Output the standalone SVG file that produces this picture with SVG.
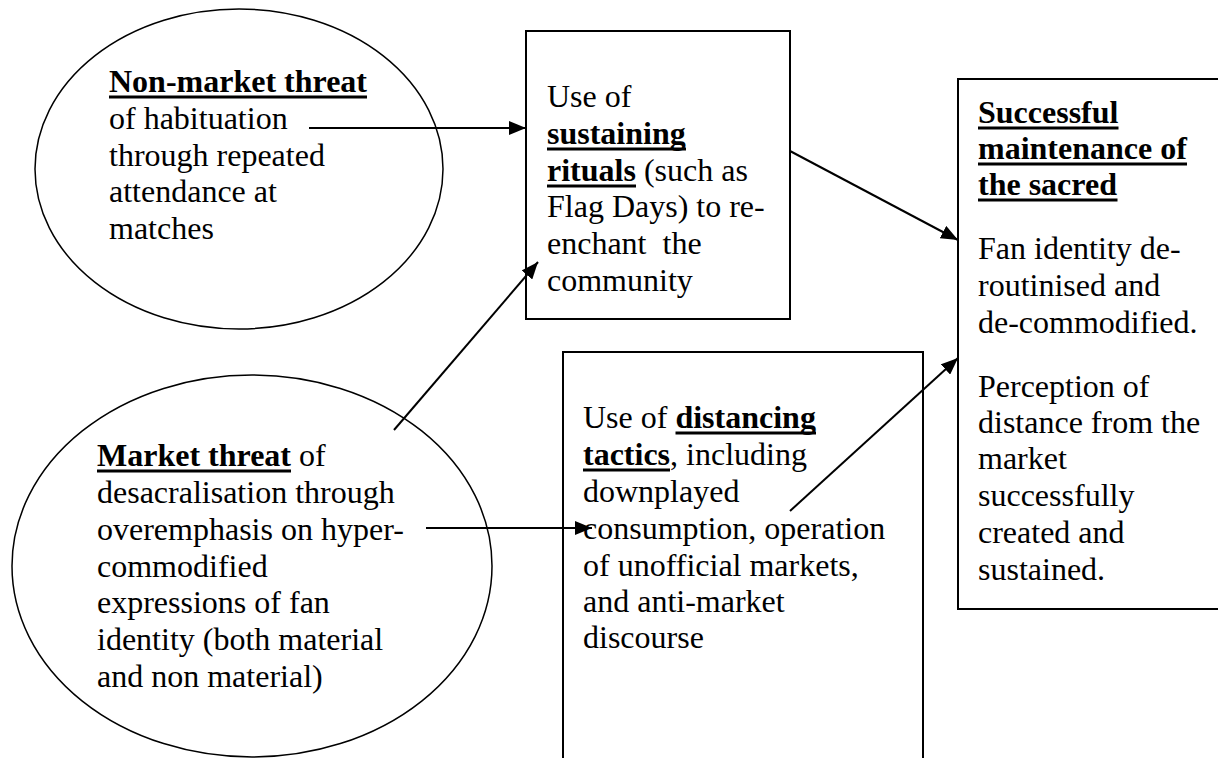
<svg xmlns="http://www.w3.org/2000/svg" width="1218" height="758" viewBox="0 0 1218 758">
<style>
  text { font-family: "Liberation Serif", "Times New Roman", serif; font-size: 32px; fill: #000; }
  .b { font-weight: bold; }
  .shape { fill: #fff; stroke: #000; stroke-width: 2; }
  .ell { fill: #fff; stroke: #000; stroke-width: 1.5; }
  .ul { fill: #000; }
  .conn { stroke: #000; stroke-width: 2; fill: none; marker-end: url(#arrow); }
</style>
<defs>
  <marker id="arrow" markerUnits="userSpaceOnUse" markerWidth="18" markerHeight="14" refX="17" refY="7" orient="auto">
    <path d="M0,0 L17,7 L0,14 z" fill="#000"/>
  </marker>
</defs>
<rect width="1218" height="758" fill="#fff"/>

<g id="node-nonmarket">
  <ellipse class="ell" cx="239" cy="169" rx="204" ry="160"/>
  <text x="109" y="92" class="b">Non-market threat</text>
  <rect class="ul" x="109" y="95.5" width="258" height="3"/>
  <text x="109" y="129">of habituation</text>
  <text x="109" y="166">through repeated</text>
  <text x="109" y="202">attendance at</text>
  <text x="109" y="239">matches</text>
</g>

<g id="node-market">
  <ellipse class="ell" cx="252" cy="566" rx="240" ry="191"/>
  <text x="97" y="466"><tspan class="b">Market threat</tspan> of</text>
  <rect class="ul" x="97" y="469.5" width="194" height="3"/>
  <text x="97" y="503">desacralisation through</text>
  <text x="97" y="540">overemphasis on hyper-</text>
  <text x="97" y="577">commodified</text>
  <text x="97" y="613">expressions of fan</text>
  <text x="97" y="650">identity (both material</text>
  <text x="97" y="687">and non material)</text>
</g>

<g id="node-rituals">
  <rect class="shape" x="526" y="31" width="264" height="288"/>
  <text x="547" y="107">Use of</text>
  <text x="547" y="144" class="b">sustaining</text>
  <rect class="ul" x="547" y="147.5" width="139" height="3"/>
  <text x="547" y="181"><tspan class="b">rituals</tspan> (such as</text>
  <rect class="ul" x="547" y="184.5" width="89" height="3"/>
  <text x="547" y="217">Flag Days) to re-</text>
  <text x="547" y="254" xml:space="preserve">enchant  the</text>
  <text x="547" y="291">community</text>
</g>

<g id="node-distancing">
  <rect class="shape" x="563" y="352" width="360" height="420"/>
  <text x="583" y="428">Use of <tspan class="b">distancing</tspan></text>
  <rect class="ul" x="675.5" y="431.5" width="140.5" height="3"/>
  <text x="583" y="465"><tspan class="b">tactics</tspan>, including</text>
  <rect class="ul" x="583" y="468.5" width="87" height="3"/>
  <text x="583" y="502">downplayed</text>
  <text x="583" y="539">consumption, operation</text>
  <text x="583" y="576">of unofficial markets,</text>
  <text x="583" y="612">and anti-market</text>
  <text x="583" y="648">discourse</text>
</g>

<g id="node-sacred">
  <rect class="shape" x="958" y="79" width="280" height="530"/>
  <text x="978" y="123" class="b">Successful</text>
  <rect class="ul" x="978" y="126.5" width="140.5" height="3"/>
  <text x="978" y="159" class="b">maintenance of</text>
  <rect class="ul" x="978" y="162.5" width="209" height="3"/>
  <text x="978" y="195" class="b">the sacred</text>
  <rect class="ul" x="978" y="198.5" width="139.5" height="3"/>
  <text x="978" y="259">Fan identity de-</text>
  <text x="978" y="296">routinised and</text>
  <text x="978" y="333">de-commodified.</text>
  <text x="978" y="397">Perception of</text>
  <text x="978" y="433">distance from the</text>
  <text x="978" y="469">market</text>
  <text x="978" y="506">successfully</text>
  <text x="978" y="543">created and</text>
  <text x="978" y="580">sustained.</text>
</g>

<g id="connectors">
  <line class="conn" x1="309" y1="128" x2="526" y2="128"/>
  <line class="conn" x1="394" y1="430" x2="538" y2="262"/>
  <line class="conn" x1="790" y1="151" x2="958" y2="240"/>
  <line class="conn" x1="426" y1="528" x2="592" y2="528"/>
  <line class="conn" x1="790" y1="511" x2="958" y2="358"/>
</g>
</svg>
